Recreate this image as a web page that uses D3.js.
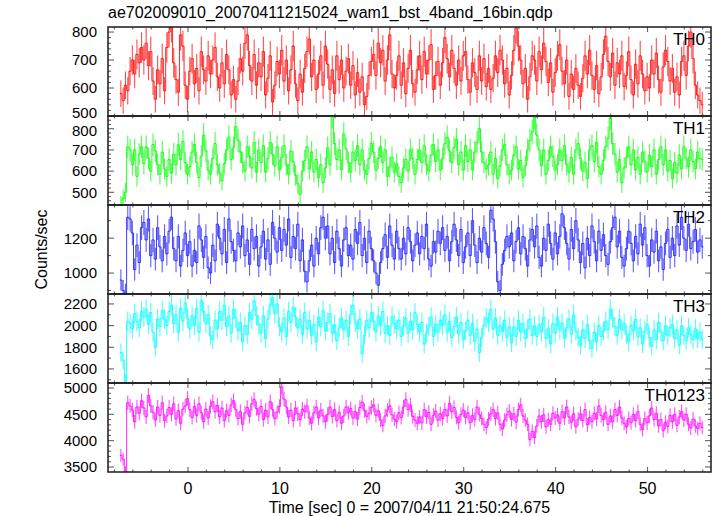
<!DOCTYPE html>
<html><head><meta charset="utf-8">
<script src="https://cdn.jsdelivr.net/npm/d3@7"></script>
<style>body{margin:0;background:#fff}svg{display:block}text{font-family:"Liberation Sans",Arial,Helvetica,sans-serif;fill:#000}</style>
</head><body><svg id="c" width="717" height="516"></svg>
<script>
const titleText = "ae702009010_20070411215024_wam1_bst_4band_16bin.qdp";
const xTitle = "Time [sec] 0 = 2007/04/11 21:50:24.675";
const yTitle = "Counts/sec";
const panelNames = ["TH0","TH1","TH2","TH3","TH0123"];
const panelColors = ["#ff0000","#00ff00","#1a1aff","#00ffff","#ff00ff"];
const timeStart = -7.3, binWidth = 0.25;
const xTickValues = [0,10,20,30,40,50];
const yTickValues = [[500,600,700,800],[500,600,700,800],[1000,1200],[1600,1800,2000,2200],[3500,4000,4500,5000]];
const yMinorSteps = [20,20,100,100,100];
const yDomains = [[500,818],[440,860],[880,1390],[1470,2292],[3405,5095]];

const th0 = [
580,555,610,590,660,700,650,720,690,745, 700,760,680,730,625,560,665,615,705,590,
745,800,820,690,630,585,790,750,610,560, 660,705,615,670,590,730,665,625,715,650,
700,745,640,600,690,615,720,665,575,630, 560,625,705,660,760,790,680,625,720,610,
690,640,730,575,635,715,550,610,695,650, 735,625,700,590,665,750,615,555,650,585,
670,730,775,640,700,595,650,715,610,750, 685,595,665,580,715,630,700,600,660,705,
610,680,575,655,585,640,540,570,645,695, 720,645,760,690,735,625,700,790,650,600,
645,715,610,690,580,670,735,615,585,665, 715,630,730,650,700,755,595,645,695,610,
690,780,705,640,735,670,610,700,625,715, 730,630,585,690,655,595,715,625,705,605,
670,595,635,715,655,735,700,615,670,575, 645,735,815,750,700,615,670,560,640,715,
700,625,730,665,760,695,620,690,585,655, 715,755,660,615,700,570,650,595,670,610,
570,635,715,650,735,645,595,680,580,640, 720,785,695,640,725,610,690,650,715,605,
645,730,630,575,685,615,715,650,590,640, 600,700,650,725,630,585,675,735,695,625,
670,585,640,575,695,715,645,750,800,705, 610,575,555,540];
const th1 = [
440,470,500,715,700,630,700,575,680,715, 635,715,660,600,725,695,630,585,690,610,
575,655,590,680,630,725,655,740,640,585, 620,690,725,640,570,670,770,695,605,585,
660,730,630,590,555,635,700,760,655,710, 810,745,690,640,600,715,670,615,735,595,
700,640,720,595,660,735,680,625,715,605, 665,720,630,585,695,645,580,540,490,600,
650,715,610,690,595,655,570,630,545,615, 710,630,860,730,655,700,605,775,705,640,
595,690,650,720,630,700,605,585,660,730, 690,605,660,715,640,700,575,620,665,595,
635,575,545,615,655,600,700,660,585,655, 700,640,720,630,600,675,725,645,700,605,
660,730,760,695,640,710,750,630,690,605, 720,645,700,605,690,735,800,690,640,610,
630,690,585,660,565,625,700,725,630,585, 605,675,715,610,650,570,625,700,745,785,
855,770,700,625,700,585,650,715,670,605, 630,700,650,720,630,595,665,585,700,730,
660,600,640,565,700,720,645,735,620,585, 650,715,755,850,730,680,595,655,545,615,
665,715,630,700,605,665,585,690,645,595, 675,620,700,585,655,715,630,700,600,650,
565,640,590,675,610,715,660,620,700,645, 610,690,660,655];
const th2 = [
960,900,880,1320,1310,1230,1020,1160,1060,1260, 1290,1190,1310,1100,1190,1080,1260,1150,1070,1210,
1110,1240,1320,1140,1070,1210,1040,1130,1230,1100, 1180,1040,1130,1060,1270,1190,1090,1210,1030,1000,
1160,1070,1280,1200,1110,1250,1060,1310,1180,1130, 1070,1230,1150,1270,1100,1190,1050,1250,1140,1210,
1040,1150,1240,1080,1190,1050,1290,1200,1120,1260, 1130,1250,1160,1310,1090,1210,1140,1280,1070,1190,
1010,950,1070,1160,1040,1200,1110,1260,1320,1200, 1270,1110,1200,1060,1240,1140,1040,1190,1260,1100,
1160,1080,1250,1170,1290,1100,1200,1060,1240,1140, 1070,1000,930,1060,1140,1220,1090,1270,1160,1080,
1240,1140,1080,1200,1110,1260,1180,1070,1160,1230, 1110,1210,1140,1280,1080,1040,1180,1120,1240,1170,
1260,1130,1210,1070,1180,1280,1190,1100,1250,1060, 1150,1230,1100,1300,1160,1060,1200,1120,1260,1170,
1090,1360,1310,1180,950,900,1050,1130,1210,1150, 1230,1070,1180,1260,1110,1210,1140,1040,1190,1250,
1150,1270,1090,1040,1200,1130,1280,1170,1080,1230, 1110,1210,1340,1260,1170,1080,1250,1140,1300,1190,
1060,1170,1030,1200,1100,1270,1180,1070,1240,1130, 1220,1100,1050,1180,1260,1320,1150,1240,1090,1040,
1140,1240,1170,1070,1210,1110,1280,1160,1260,1100, 1040,1190,1120,1240,1070,1150,1020,1170,1250,1090,
1200,1100,1270,1160,1320,1200,1130,1280,1140,1180, 1250,1120,1190,1150];
const th3 = [
1750,1680,1480,2040,2020,1970,2110,2040,1980,2130, 2080,2150,2010,2120,1940,1800,2060,1990,2140,2060,
2000,2130,2190,2020,2100,1940,2160,2040,2210,2070, 1970,2090,2000,2160,1940,2230,2130,2020,2100,1910,
1870,2050,1970,2130,2050,2190,1990,2090,1930,2150, 2070,1950,2030,1850,2000,1920,2120,2060,2230,2090,
2010,1930,2090,1880,2060,2190,2260,2110,2200,1990, 1940,2070,1900,2130,2030,2170,2080,1980,2060,1920,
2120,1970,2050,1910,2010,1850,2080,1990,2140,1950, 2030,2110,1930,2010,1860,1980,2070,1960,2050,1900,
2100,2190,2030,1970,2060,1740,1910,2050,1980,2120, 2040,1940,2090,2000,2130,1930,2000,1910,2080,2020,
1970,2050,1900,2000,2070,1930,2040,1960,2120,2010, 1940,2030,1830,1930,1990,2080,1900,2010,1940,2050,
2000,2100,1940,2040,1890,1990,2080,1920,2030,1870, 1950,2050,1910,2020,1850,1970,1750,1890,2000,2070,
2030,2150,1970,2070,1910,2000,1940,2050,1890,1990, 1840,1990,1900,2050,1940,2020,1880,1970,2060,1910,
2000,1900,2010,1940,2080,1880,1970,1830,2020,1930, 2080,1960,2020,1880,1980,2060,1920,2100,1950,1890,
1820,1960,1880,2010,1860,1790,1940,1850,2000,1900, 1950,2040,1960,2150,2070,1990,1910,2060,1960,2020,
1920,1850,2000,1950,2060,1900,1980,1830,1950,2010, 1890,1810,1960,1870,2030,1940,1860,2000,1910,1980,
2010,1880,1960,1820,2000,1910,1860,1980,1920,1870, 1970,1880,1940,1870];
const th0123 = [
3720,3650,3400,4720,4660,4580,4360,4640,4520,4760, 4620,4450,4860,4660,4540,4390,4640,4480,4720,4380,
4470,4630,4500,4700,4410,4570,4330,4600,4660,4800, 4590,4440,4650,4480,4700,4530,4360,4600,4430,4650,
4740,4550,4670,4450,4620,4380,4570,4480,4680,4760, 4590,4420,4550,4310,4530,4630,4460,4700,4780,4610,
4500,4650,4400,4580,4450,4740,4590,4420,4540,4650, 5020,4790,4640,4450,4580,4380,4620,4510,4400,4600,
4550,4660,4430,4330,4530,4640,4430,4580,4470,4360, 4500,4640,4460,4590,4380,4540,4330,4470,4640,4530,
4610,4430,4550,4410,4630,4730,4570,4460,4520,4630, 4680,4480,4570,4390,4290,4470,4580,4660,4490,4410,
4360,4530,4440,4640,4780,4590,4680,4460,4390,4330, 4450,4340,4590,4450,4540,4310,4480,4560,4390,4510,
4420,4590,4470,4710,4550,4630,4440,4340,4500,4580, 4440,4530,4340,4480,4400,4640,4500,4420,4310,4250,
4410,4510,4590,4420,4530,4310,4220,4390,4490,4560, 4400,4510,4350,4590,4680,4470,4390,4310,4020,4180,
4060,4280,4470,4360,4490,4260,4400,4310,4520,4430, 4490,4330,4550,4430,4640,4450,4350,4510,4260,4410,
4510,4380,4590,4300,4440,4360,4520,4410,4660,4480, 4400,4540,4310,4470,4360,4590,4480,4640,4430,4330,
4260,4420,4340,4500,4380,4550,4310,4210,4420,4340, 4470,4620,4400,4520,4280,4400,4190,4350,4270,4480,
4360,4500,4290,4450,4550,4390,4500,4310,4240,4410, 4280,4230,4330,4250];
const seriesValues = [th0, th1, th2, th3, th0123];

const L = 108, R = 711, top0 = 27, panelH = 89;
const svg = d3.select("#c");
const x = d3.scaleLinear().domain([-8.7, 56.9]).range([L, R]);
const frameColor = "#1a1a1a", tickColor = "#555";

svg.append("text").attr("x", L).attr("y", 18).attr("font-size", 16).text(titleText);

seriesValues.forEach((vals, p) => {
  const y0 = top0 + p * panelH, y1 = y0 + panelH;
  const y = d3.scaleLinear().domain(yDomains[p]).range([y1, y0]);
  const g = svg.append("g");
  const clipId = "clip" + p;
  svg.append("clipPath").attr("id", clipId).append("rect").attr("x", L).attr("y", y0).attr("width", R - L).attr("height", panelH);
  // Poisson error of a rate measured in a bin of width binWidth
  const data = vals.map((v, i) => ({t: timeStart + i * binWidth, v, e: Math.sqrt(v / binWidth)}));
  const dg = g.append("g").attr("clip-path", `url(#${clipId})`);
  dg.append("g").attr("stroke", panelColors[p]).attr("stroke-width", 1.1).attr("stroke-opacity", 0.7)
    .selectAll("line").data(data).join("line")
    .attr("x1", d => x(d.t)).attr("x2", d => x(d.t))
    .attr("y1", d => y(d.v - d.e)).attr("y2", d => y(d.v + d.e));
  const stepPts = data.flatMap(d => [[d.t - binWidth/2, d.v], [d.t + binWidth/2, d.v]]);
  dg.append("path").datum(stepPts)
    .attr("fill", "none").attr("stroke", panelColors[p]).attr("stroke-width", 1).attr("stroke-opacity", 0.85)
    .attr("d", d3.line().x(d => x(d[0])).y(d => y(d[1])));

  const tg = g.append("g").attr("stroke", tickColor).attr("stroke-width", 1);
  d3.range(-8, 57, 2).forEach(t => {
    const len = (t % 10 === 0) ? 5 : 2.5;
    tg.append("line").attr("x1", x(t)).attr("x2", x(t)).attr("y1", y1).attr("y2", y1 - len);
    tg.append("line").attr("x1", x(t)).attr("x2", x(t)).attr("y1", y0).attr("y2", y0 + len);
  });
  const st = yMinorSteps[p], dom = yDomains[p];
  for (let v = Math.ceil(dom[0] / st) * st; v <= dom[1]; v += st) {
    const major = yTickValues[p].includes(v) || (p >= 2 && p < 4 && v % 200 === 0) || (p === 4 && v % 500 === 0);
    const len = major ? 6 : 3;
    tg.append("line").attr("x1", L).attr("x2", L + len).attr("y1", y(v)).attr("y2", y(v));
    tg.append("line").attr("x1", R).attr("x2", R - len).attr("y1", y(v)).attr("y2", y(v));
  }
  g.append("rect").attr("x", L).attr("y", y0).attr("width", R - L).attr("height", panelH)
    .attr("fill", "none").attr("stroke", frameColor).attr("stroke-width", 1.5);
  yTickValues[p].forEach(v => {
    const nudge = (p === 0 && v === 500) ? -3 : (p === 1 && v === 800) ? 2 : 0;
    g.append("text").attr("x", L - 11).attr("y", y(v) + nudge).attr("dy", "0.36em")
      .attr("text-anchor", "end").attr("font-size", 15).text(v);
  });
  g.append("text").attr("x", R - 6).attr("y", y0 + 18).attr("text-anchor", "end")
    .attr("font-size", 17).text(panelNames[p]);
});

const yB = top0 + 5 * panelH;
xTickValues.forEach(t => {
  svg.append("text").attr("x", x(t)).attr("y", yB + 22).attr("text-anchor", "middle").attr("font-size", 16).text(t);
});
svg.append("text").attr("x", (L + R) / 2).attr("y", yB + 41).attr("text-anchor", "middle").attr("font-size", 16).text(xTitle);
svg.append("text").attr("transform", `translate(47,${(top0 + yB) / 2}) rotate(-90)`).attr("text-anchor", "middle").attr("font-size", 16).text(yTitle);
</script></body></html>
